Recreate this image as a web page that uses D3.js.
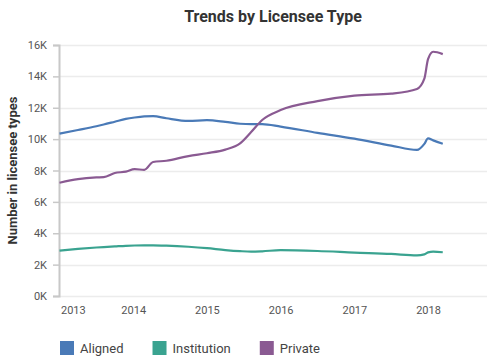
<!DOCTYPE html>
<html>
<head>
<meta charset="utf-8">
<script src="https://cdn.jsdelivr.net/npm/d3@7"></script>
<style>
  body { margin: 0; background: #fff; }
  svg { display: block; font-family: Roboto, "Open Sans", sans-serif; }
</style>
</head>
<body>
<svg id="chart" width="500" height="361"></svg>
<script>
const title = "Trends by Licensee Type";
const yTitle = "Number in licensee types";
const seriesNames = ["Aligned", "Institution", "Private"];
const seriesColors = ["#4a7ab7", "#3aa390", "#8a5a92"];
const dates = [2013.0, 2013.25, 2013.5, 2013.6, 2013.75, 2013.9, 2014.02, 2014.15, 2014.27, 2014.45,
  2014.75, 2015.0, 2015.25, 2015.45, 2015.6, 2015.75, 2016.0, 2016.5, 2017.0, 2017.5,
  2017.85, 2017.95, 2018.0, 2018.07, 2018.2];
const aligned = [10350, 10580, 10820, 10930, 11110, 11290, 11380, 11450, 11470, 11330,
  11160, 11210, 11100, 10980, 10950, 10960, 10800, 10400, 10030, 9590,
  9310, 9700, 10050, 9920, 9700];
const institution = [2890, 3000, 3090, 3120, 3160, 3200, 3220, 3230, 3230, 3210,
  3140, 3050, 2930, 2860, 2830, 2850, 2920, 2870, 2770, 2680,
  2590, 2650, 2780, 2830, 2790];
const privateV = [7220, 7450, 7560, 7580, 7840, 7930, 8090, 8040, 8540, 8620,
  8920, 9100, 9330, 9730, 10450, 11220, 11850, 12420, 12770, 12900,
  13200, 13850, 15100, 15570, 15420];
const yTicks = [0, 2000, 4000, 6000, 8000, 10000, 12000, 14000, 16000];
const xTicks = [2013, 2014, 2015, 2016, 2017, 2018];

const seriesValues = [aligned, institution, privateV];

const svg = d3.select("#chart");
const margin = {left: 59, right: 13, top: 45, bottom: 65};
const W = 500, H = 361;

const x = d3.scaleLinear().domain([2013, 2018.8]).range([margin.left + 0.5, W - margin.right]);
const y = d3.scaleLinear().domain([0, 16000]).range([H - margin.bottom, margin.top]);

// title
svg.append("text").attr("x", (margin.left + W - margin.right) / 2).attr("y", 22)
  .attr("text-anchor", "middle").attr("font-size", 16).attr("font-weight", "bold")
  .attr("fill", "#333").text(title);

// gridlines
svg.append("g").selectAll("line").data(yTicks).join("line")
  .attr("x1", margin.left).attr("x2", W - margin.right)
  .attr("y1", d => Math.round(y(d)) + 0.5).attr("y2", d => Math.round(y(d)) + 0.5)
  .attr("stroke", "#ececec").attr("stroke-width", 1.5);

// y axis
const yAxis = d3.axisLeft(y).tickValues(yTicks).tickSize(6).tickPadding(6)
  .tickFormat(d => (d / 1000) + "K");
const gy = svg.append("g").attr("transform", `translate(${margin.left},0)`).call(yAxis);
gy.select(".domain").attr("stroke", "#c8c8c8").attr("stroke-width", 2);
gy.selectAll(".tick line").attr("stroke", "#c8c8c8").attr("stroke-width", 1.5);
gy.selectAll(".tick text").attr("font-size", 11).attr("fill", "#555")
  .attr("font-family", "Roboto, sans-serif");

// y title
svg.append("text").attr("transform", `translate(17,${(y(0) + y(16000)) / 2}) rotate(-90)`)
  .attr("text-anchor", "middle").attr("font-size", 13).attr("font-weight", "bold")
  .attr("fill", "#333").text(yTitle);

// x axis labels
const xAxis = d3.axisBottom(x).tickValues(xTicks).tickSize(0).tickPadding(10)
  .tickFormat(d3.format("d"));
const gx = svg.append("g").attr("transform", `translate(0,${y(0)})`).call(xAxis);
gx.select(".domain").remove();
gx.selectAll(".tick text").attr("font-size", 11).attr("fill", "#555")
  .attr("font-family", "Roboto, sans-serif")
  .attr("text-anchor", (d, i) => i === 0 ? "start" : "middle")
  .attr("dx", (d, i) => i === 0 ? 1 : 0);

// lines
const line = d3.line().x(d => x(d[0])).y(d => y(d[1])).curve(d3.curveMonotoneX);
seriesValues.forEach((vals, i) => {
  svg.append("path").datum(dates.map((d, j) => [d, vals[j]]))
    .attr("fill", "none").attr("stroke", seriesColors[i]).attr("stroke-width", 2.2)
    .attr("stroke-linejoin", "round").attr("d", line);
});

// legend
const lg = svg.append("g").attr("transform", "translate(60,341)");
let lx = 0;
seriesNames.forEach((n, i) => {
  const g = lg.append("g").attr("transform", `translate(${lx},0)`);
  g.append("rect").attr("width", 14).attr("height", 14).attr("fill", seriesColors[i]);
  const t = g.append("text").attr("x", 20).attr("y", 12).attr("font-size", 13)
    .attr("fill", "#444").text(n);
  lx += 20 + t.node().getComputedTextLength() + 29;
});
</script>
</body>
</html>
